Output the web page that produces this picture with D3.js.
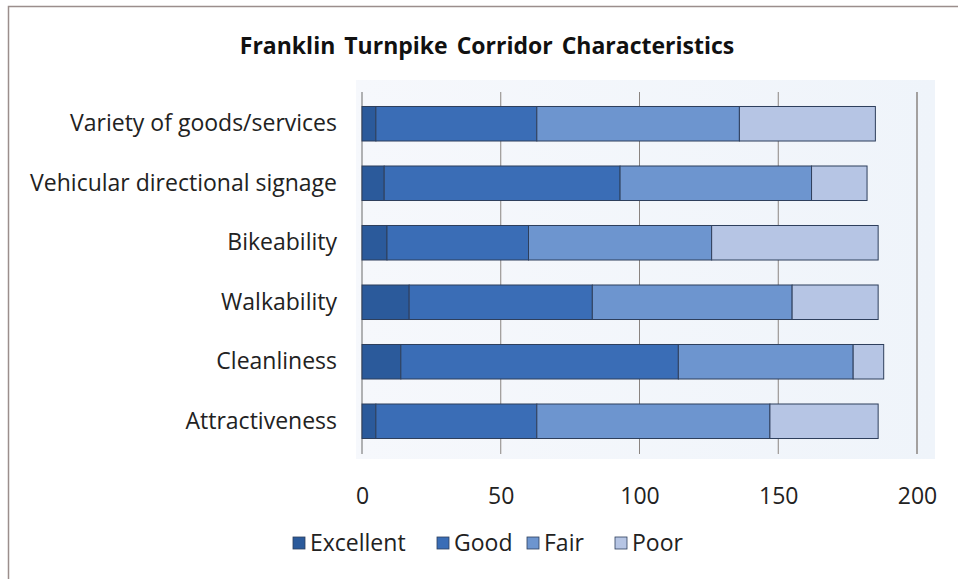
<!DOCTYPE html>
<html>
<head>
<meta charset="utf-8">
<script src="https://cdn.jsdelivr.net/npm/d3@7"></script>
<style>
  html, body { margin: 0; padding: 0; background: #fff; }
  svg { display: block; }
</style>
</head>
<body>
<svg id="chart" width="958" height="579"></svg>
<script>
// Survey ratings of the Franklin Turnpike corridor (number of responses)
const categories = [
  "Variety of goods/services",
  "Vehicular directional signage",
  "Bikeability",
  "Walkability",
  "Cleanliness",
  "Attractiveness"
];
const seriesNames = ["Excellent", "Good", "Fair", "Poor"];
const excellent = [5, 8, 9, 17, 14, 5];
const good      = [58, 85, 51, 66, 100, 58];
const fair      = [73, 69, 66, 72, 63, 84];
const poor      = [49, 20, 60, 31, 11, 39];
const xTicks = [0, 50, 100, 150, 200];
const colors = ["#2b5a9b", "#3a6db6", "#6d95cf", "#b6c5e4"];

const svg = d3.select("#chart");
const W = 958, H = 579;
const font = "'Open Sans', 'Noto Sans', sans-serif";

// outer chart frame
svg.append("rect").attr("x", 8.5).attr("y", 6.5).attr("width", W).attr("height", H)
  .attr("fill", "#fff").attr("stroke", "#9b8e8c").attr("stroke-width", 1.5);

const margin = { left: 362, right: 41, top: 94, bottom: 128 };
const x = d3.scaleLinear().domain([0, 200]).range([margin.left, W - margin.right]);
const y = d3.scaleBand().domain(categories).range([margin.top, H - margin.bottom])
  .paddingInner(0.42).paddingOuter(0.21);

// plot area backdrop
const bg = svg.append("defs").append("linearGradient").attr("id", "plotbg")
  .attr("x1", 0).attr("x2", 1).attr("y1", 0).attr("y2", 0);
bg.append("stop").attr("offset", "0%").attr("stop-color", "#f6f8fc");
bg.append("stop").attr("offset", "100%").attr("stop-color", "#eff4fa");
svg.append("rect").attr("x", x(0) - 6).attr("y", margin.top - 14)
  .attr("width", x(200) - x(0) + 24).attr("height", (H - margin.bottom) - margin.top + 22)
  .attr("fill", "url(#plotbg)");

// vertical gridlines
svg.append("g").selectAll("line").data(xTicks).join("line")
  .attr("x1", d => x(d)).attr("x2", d => x(d))
  .attr("y1", margin.top - 2).attr("y2", H - margin.bottom + 3)
  .attr("stroke", d => d === 0 ? "#6b6b6b" : "#8a8480")
  .attr("stroke-width", d => d === 200 ? 1.5 : 1);

// stacked bars
const rows = categories.map((c, i) => ({
  category: c, Excellent: excellent[i], Good: good[i], Fair: fair[i], Poor: poor[i]
}));
const stacked = d3.stack().keys(seriesNames)(rows);

const layers = svg.append("g").selectAll("g").data(stacked).join("g")
  .attr("fill", (d, i) => colors[i]);
layers.selectAll("rect").data(d => d).join("rect")
  .attr("x", d => x(d[0]))
  .attr("y", d => y(d.data.category))
  .attr("width", d => x(d[1]) - x(d[0]))
  .attr("height", y.bandwidth())
  .attr("stroke", "#2e3f5c").attr("stroke-width", 1);

// x axis labels
svg.append("g").attr("transform", `translate(0,${H - margin.bottom + 37})`)
  .call(d3.axisBottom(x).tickValues(xTicks).tickSize(0).tickPadding(0))
  .call(g => g.select(".domain").remove())
  .call(g => g.selectAll("text").attr("font-family", font).attr("font-size", 23)
    .attr("fill", "#222"));

// category labels
svg.append("g").attr("transform", `translate(${x(0) - 25},0)`)
  .call(d3.axisLeft(y).tickSize(0).tickPadding(0))
  .call(g => g.select(".domain").remove())
  .call(g => g.selectAll("text").attr("font-family", font).attr("font-size", 23)
    .attr("fill", "#222"));

// title
svg.append("text").attr("x", 487).attr("y", 54).attr("text-anchor", "middle")
  .attr("font-family", font).attr("font-weight", "bold").attr("font-size", 23)
  .attr("word-spacing", 3)
  .attr("fill", "#111").text("Franklin Turnpike Corridor Characteristics");

// legend
const legendX = [293, 437, 527, 615];
const legend = svg.append("g").selectAll("g").data(seriesNames).join("g")
  .attr("transform", (d, i) => `translate(${legendX[i]},543)`);
legend.append("rect").attr("x", 0).attr("y", -6).attr("width", 12).attr("height", 12)
  .attr("fill", (d, i) => colors[i]).attr("stroke", "#2e3f5c").attr("stroke-width", 0.8);
legend.append("text").attr("x", 17).attr("y", 0).attr("dy", "0.35em")
  .attr("font-family", font).attr("font-size", 23).attr("fill", "#222").text(d => d);
</script>
</body>
</html>
